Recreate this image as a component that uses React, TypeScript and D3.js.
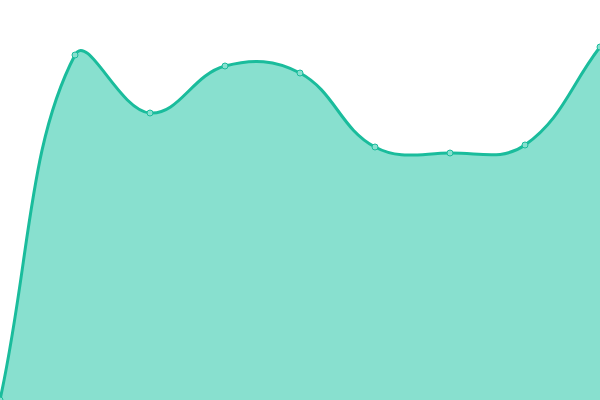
import { useEffect, useRef } from "react";
import * as d3 from "d3";

const width = 600;
const height = 400;

// x 位置索引（9 個等距點）
const categories = [0, 1, 2, 3, 4, 5, 6, 7, 8];
// 從圖上估出的數值（底部為 0，頂部為 400）
const values = [0, 345, 287, 334, 327, 253, 247, 255, 353];
const yDomain = [0, 400];

const lineColor = "#1abc9c";
const areaColor = "#88e0cf";
const tension = 0.4;

type Pt = { x: number; y: number };

// 平滑曲線的控制點（依前後線段長度比例分配）
function controlPoints(pts: Pt[]) {
  return pts.map((cur, i) => {
    const prev = pts[i - 1] ?? cur;
    const next = pts[i + 1] ?? cur;
    const d01 = Math.hypot(cur.x - prev.x, cur.y - prev.y);
    const d12 = Math.hypot(next.x - cur.x, next.y - cur.y);
    const s01 = d01 + d12 ? d01 / (d01 + d12) : 0;
    const s12 = d01 + d12 ? d12 / (d01 + d12) : 0;
    const fa = tension * s01;
    const fb = tension * s12;
    const clampX = (v: number) => Math.max(0, Math.min(width, v));
    const clampY = (v: number) => Math.max(0, Math.min(height, v));
    return {
      before: {
        x: clampX(cur.x - fa * (next.x - prev.x)),
        y: clampY(cur.y - fa * (next.y - prev.y)),
      },
      after: {
        x: clampX(cur.x + fb * (next.x - prev.x)),
        y: clampY(cur.y + fb * (next.y - prev.y)),
      },
    };
  });
}

function drawSpline(p: d3.Path, pts: Pt[]) {
  const cps = controlPoints(pts);
  p.moveTo(pts[0].x, pts[0].y);
  for (let i = 1; i < pts.length; i++) {
    const a = cps[i - 1].after;
    const b = cps[i].before;
    p.bezierCurveTo(a.x, a.y, b.x, b.y, pts[i].x, pts[i].y);
  }
}

export default function App() {
  const svgRef = useRef<SVGSVGElement | null>(null);

  useEffect(() => {
    if (!svgRef.current) return;
    const svg = d3.select(svgRef.current);

    const x = d3
      .scaleLinear()
      .domain([categories[0], categories[categories.length - 1]])
      .range([0, width]);

    const y = d3.scaleLinear().domain(yDomain).range([height, 0]);

    const pts: Pt[] = categories.map((c, i) => ({ x: x(c), y: y(values[i]) }));

    const linePath = d3.path();
    drawSpline(linePath, pts);

    const areaPath = d3.path();
    drawSpline(areaPath, pts);
    areaPath.lineTo(pts[pts.length - 1].x, y(0));
    areaPath.lineTo(pts[0].x, y(0));
    areaPath.closePath();

    svg
      .select(".area")
      .selectAll("path")
      .data([areaPath.toString()])
      .join("path")
      .attr("d", (d) => d)
      .attr("fill", areaColor);

    svg
      .select(".line")
      .selectAll("path")
      .data([linePath.toString()])
      .join("path")
      .attr("d", (d) => d)
      .attr("fill", "none")
      .attr("stroke", lineColor)
      .attr("stroke-width", 3);

    svg
      .select(".points")
      .selectAll("circle")
      .data(pts)
      .join("circle")
      .attr("cx", (d) => d.x)
      .attr("cy", (d) => d.y)
      .attr("r", 3)
      .attr("fill", areaColor)
      .attr("stroke", lineColor)
      .attr("stroke-width", 1);
  }, []);

  return (
    <svg
      ref={svgRef}
      width={width}
      height={height}
      style={{ position: "fixed", left: 0, top: 0, background: "#ffffff" }}
    >
      <g className="area" />
      <g className="line" />
      <g className="points" />
    </svg>
  );
}
